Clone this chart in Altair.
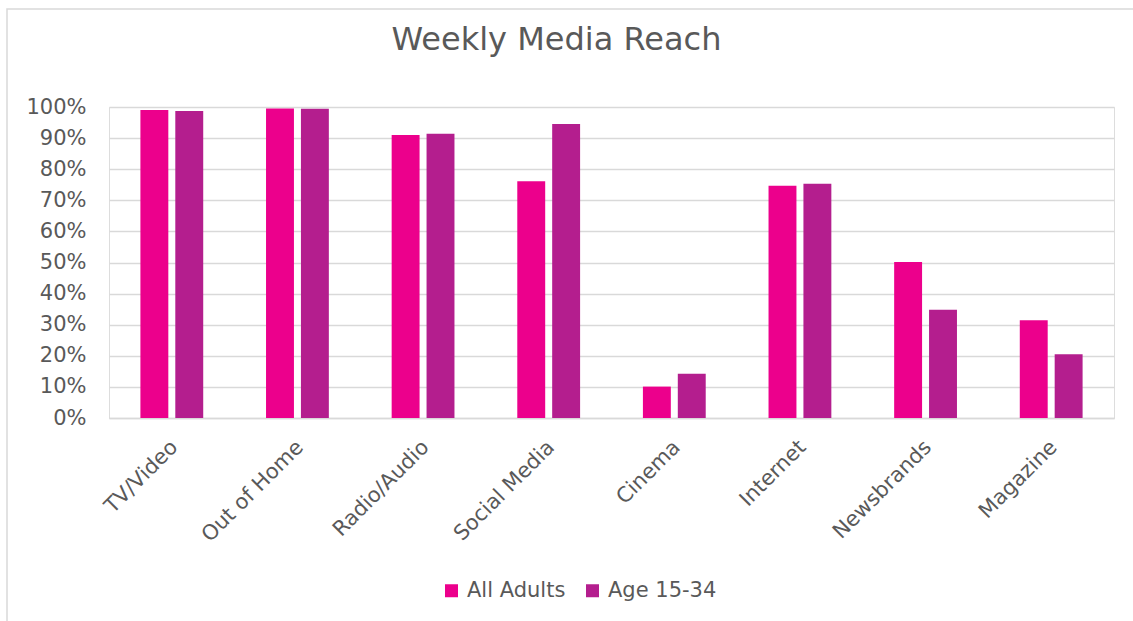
import altair as alt
import pandas as pd

categories = ["TV/Video", "Out of Home", "Radio/Audio", "Social Media",
              "Cinema", "Internet", "Newsbrands", "Magazine"]
all_adults = [0.990, 0.995, 0.910, 0.761, 0.101, 0.747, 0.502, 0.314]
age_15_34 = [0.987, 0.994, 0.914, 0.945, 0.142, 0.753, 0.348, 0.205]
series = ["All Adults", "Age 15-34"]
colors = ["#EC008C", "#B41E8E"]

rows = []
for c, a, b in zip(categories, all_adults, age_15_34):
    rows.append({"cat": c, "series": series[0], "value": a})
    rows.append({"cat": c, "series": series[1], "value": b})
df = pd.DataFrame(rows)

FONT = "DejaVu Sans"
TXT = "#595959"
GRID = "#D9D9D9"

bars = alt.Chart(df).mark_bar().encode(
    x=alt.X("cat:N", sort=categories, title=None,
            scale=alt.Scale(paddingInner=0.5, paddingOuter=0.25),
            axis=alt.Axis(labelAngle=-45, labelFontSize=21, labelFont=FONT,
                          labelColor=TXT, ticks=False, domainColor=GRID,
                          domainWidth=1.5, labelPadding=18, labelOffset=-5,
                          grid=False)),
    xOffset=alt.XOffset("series:N", sort=series,
                        scale=alt.Scale(paddingInner=0.2, paddingOuter=0)),
    y=alt.Y("value:Q", title=None,
            scale=alt.Scale(domain=[0, 1], nice=False),
            axis=alt.Axis(format=".0%", values=[i / 10 for i in range(11)],
                          labelFontSize=21, labelFont=FONT, labelColor=TXT,
                          ticks=False, domain=False, labelPadding=23,
                          gridColor=GRID, gridWidth=1.5)),
    color=alt.Color("series:N", sort=series,
                    scale=alt.Scale(domain=series, range=colors),
                    legend=alt.Legend(title=None, orient="none", direction="horizontal",
                                      legendX=332, legendY=473,
                                      symbolType="square", symbolSize=169,
                                      symbolStrokeWidth=0,
                                      labelFontSize=21, labelFont=FONT,
                                      labelColor=TXT, columnPadding=16,
                                      labelOffset=5)),
)

border_df = pd.DataFrame({"k": [0]})
border = alt.Chart(border_df).mark_rect(filled=False, stroke=GRID, strokeWidth=1.5).encode(
    x=alt.value(-102), x2=alt.value(1030), y=alt.value(-98), y2=alt.value(520)
)

chart = alt.layer(border, bars).properties(
    width=1005, height=311,
    title=alt.TitleParams("Weekly Media Reach", fontSize=32, font=FONT,
                          fontWeight="normal", color=TXT, anchor="middle",
                          baseline="alphabetic", dx=-55, dy=33, offset=-41),
    autosize=alt.AutoSizeParams(type="none"),
    padding={"left": 109, "top": 107, "right": 19, "bottom": 203},
).configure_view(stroke=None).configure(background="white")

chart.save("out.html", embed_options={"renderer": "svg", "actions": False})
